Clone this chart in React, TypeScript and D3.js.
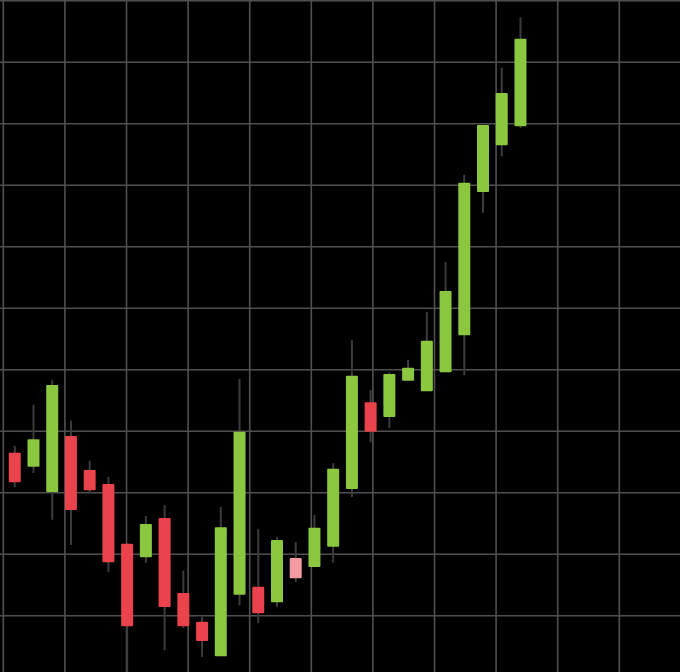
import React, { useEffect, useRef } from 'react';
import * as d3 from 'd3';

// OHLC values (arbitrary price units, grid every 10)
const opens = [
  126.5, 124.2, 120.1, 129.2, 123.7, 121.4, 111.7, 109.5, 115.9, 103.7,
  99.0, 93.4, 103.4, 104.7, 102.2, 109.4, 107.9, 111.2, 120.6, 134.7,
  132.3, 138.2, 136.5, 139.6, 145.6, 168.9, 176.5, 179.6,
];
const highs = [
  127.6, 134.3, 138.3, 131.7, 125.2, 122.6, 111.8, 116.2, 118.0, 107.3,
  99.8, 117.7, 138.5, 114.1, 112.8, 112.0, 116.4, 124.8, 144.8, 136.7,
  139.6, 141.6, 149.4, 157.5, 171.7, 179.8, 189.1, 197.3,
];
const lows = [
  120.9, 123.2, 115.6, 111.5, 119.8, 107.1, 89.5, 108.6, 94.4, 98.0,
  93.3, 93.4, 101.7, 98.8, 101.4, 105.5, 107.9, 108.6, 119.3, 128.2,
  130.5, 138.2, 136.5, 139.6, 139.1, 165.5, 174.7, 179.3,
];
const closes = [
  121.7, 128.7, 137.5, 117.2, 120.4, 108.7, 98.3, 114.9, 101.4, 98.3,
  95.9, 114.4, 129.9, 100.4, 112.3, 106.1, 114.3, 123.9, 139.0, 129.9,
  139.3, 140.3, 144.7, 152.8, 170.4, 179.8, 185.0, 193.8,
];
const priceTicks = [100, 110, 120, 130, 140, 150, 160, 170, 180, 190, 200];
const timeTicks = [0, 1, 2, 3, 4, 5, 6, 7, 8, 9, 10];
const selectedCandle = 15;

const W = 680;
const H = 672;

export default function App() {
  const ref = useRef<SVGSVGElement>(null);

  useEffect(() => {
    if (!ref.current) return;
    const svg = d3.select(ref.current);
    svg.selectAll('*').remove();

    const idx = d3.range(opens.length);

    const x = d3.scaleBand<number>()
      .domain(idx)
      .range([5.4, 5.4 + 18.73 * opens.length])
      .paddingInner(0.36)
      .paddingOuter(0.18);

    const y = d3.scaleLinear().domain([100, 200]).range([615.7, 0.7]);
    const gx = d3.scaleLinear().domain([0, 10]).range([3.3, 619.3]);

    svg.append('rect').attr('width', W).attr('height', H).attr('fill', '#000');

    // grid
    const grid = svg.append('g').attr('stroke', '#505050').attr('stroke-width', 1.6);
    grid.selectAll('.h').data(priceTicks).enter().append('line')
      .attr('x1', 0).attr('x2', W)
      .attr('y1', d => y(d)).attr('y2', d => y(d));
    grid.selectAll('.v').data(timeTicks).enter().append('line')
      .attr('y1', 0).attr('y2', H)
      .attr('x1', d => gx(d)).attr('x2', d => gx(d));

    const up = (i: number) => closes[i] >= opens[i];
    const color = (i: number) => {
      if (i === selectedCandle) return up(i) ? '#c8eaa0' : '#f39aa2';
      return up(i) ? '#8cc83f' : '#ea434c';
    };

    const c = svg.append('g').selectAll('g').data(idx).enter().append('g');

    c.append('line')
      .attr('x1', i => x(i)! + x.bandwidth() / 2)
      .attr('x2', i => x(i)! + x.bandwidth() / 2)
      .attr('y1', i => y(highs[i]))
      .attr('y2', i => y(lows[i]))
      .attr('stroke', '#3c3c3c')
      .attr('stroke-width', 2);

    c.append('rect')
      .attr('x', i => x(i)!)
      .attr('width', x.bandwidth())
      .attr('y', i => y(Math.max(opens[i], closes[i])))
      .attr('height', i => Math.max(1, Math.abs(y(opens[i]) - y(closes[i]))))
      .attr('fill', i => color(i))
      .attr('rx', 1);
  }, []);

  return (
    <svg
      ref={ref}
      width={W}
      height={H}
      style={{ position: 'absolute', left: 0, top: 0, display: 'block' }}
    />
  );
}
